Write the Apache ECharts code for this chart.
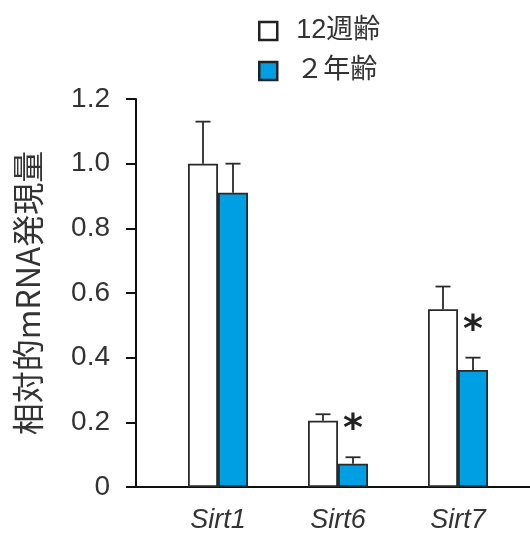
<!DOCTYPE html>
<html><head><meta charset="utf-8">
<script src="https://cdn.jsdelivr.net/npm/echarts@6/dist/echarts.min.js"></script>
<style>html,body{margin:0;padding:0;background:#fff}#c{width:530px;height:537px}</style>
</head><body><div id="c"></div>
<script>
const categories = ['Sirt1', 'Sirt6', 'Sirt7'];
const seriesNames = ['12週齢', '２年齢'];
const young = [1.00, 0.205, 0.55];
const youngErr = [0.13, 0.02, 0.07];
const old = [0.91, 0.072, 0.362];
const oldErr = [0.09, 0.02, 0.038];
const sig = ['', '*', '*'];
const yTicks = [0, 0.2, 0.4, 0.6, 0.8, 1.0, 1.2];

const FONT = "'Liberation Sans', 'Noto Sans CJK JP', sans-serif";
const EDGE = '#2a2a2a';
const BLUE = '#009fe3';
const BW = 30;

function errRender(side, errs, marks) {
  return function (params, api) {
    const i = api.value(0);
    const m = api.value(1);
    const top = m + errs[i];
    const p0 = api.coord([i, m]);
    const p1 = api.coord([i, top]);
    const x = p0[0] + side * BW / 2;
    const children = [
      {type: 'line', shape: {x1: x, y1: p0[1], x2: x, y2: p1[1]}, style: {stroke: EDGE, lineWidth: 1.8}},
      {type: 'line', shape: {x1: x - 7.5, y1: p1[1], x2: x + 7.5, y2: p1[1]}, style: {stroke: EDGE, lineWidth: 1.8}}
    ];
    if (marks && marks[i]) {
      children.push({type: 'text', style: {text: marks[i], x: x, y: p1[1] - 27, align: 'center', verticalAlign: 'middle',
        font: "bold 38px 'DejaVu Sans', sans-serif", fill: '#222'}});
    }
    return {type: 'group', children: children};
  };
}

const chart = echarts.init(document.getElementById('c'), null, {renderer: 'canvas'});
chart.setOption({
  animation: false,
  backgroundColor: '#fff',
  textStyle: {fontFamily: FONT},
  legend: {
    orient: 'vertical', left: 253, top: 11, itemWidth: 18, itemHeight: 18, itemGap: 10,
    textStyle: {fontSize: 27, color: '#333', fontFamily: FONT, padding: [0, 0, 0, 14], lineHeight: 30},
    data: [
      {name: seriesNames[0], icon: 'rect', itemStyle: {color: '#fff', borderColor: '#222', borderWidth: 2.5}},
      {name: seriesNames[1], icon: 'rect', itemStyle: {color: BLUE, borderColor: '#222', borderWidth: 2.5}}
    ]
  },
  grid: [
    {left: 136, right: 0, top: 99, height: 388},
    {left: 158, width: 360, top: 99, height: 388}
  ],
  xAxis: [
    {gridIndex: 0, type: 'value', min: 0, max: 1, axisLine: {show: true, onZero: false, lineStyle: {color: '#111', width: 2}},
      axisTick: {show: false}, axisLabel: {show: false}, splitLine: {show: false}},
    {gridIndex: 1, type: 'category', data: categories, axisLine: {show: false}, axisTick: {show: false},
      axisLabel: {fontSize: 27, fontStyle: 'italic', color: '#333', margin: 20, fontFamily: FONT}}
  ],
  yAxis: [
    {gridIndex: 0, type: 'value', min: 0, max: 1.2, interval: 0.2,
      name: '相対的mRNA発現量', nameLocation: 'middle', nameGap: 92,
      nameTextStyle: {fontSize: 32, color: '#333', fontFamily: "'Noto Sans CJK JP', sans-serif"},
      axisLine: {show: true, lineStyle: {color: '#111', width: 2}},
      axisTick: {show: true, length: 10, lineStyle: {color: '#111', width: 2}},
      axisLabel: {fontSize: 28, color: '#333', margin: 26, fontFamily: FONT,
        formatter: v => { const t = yTicks.find(k => Math.abs(k - v) < 1e-9); return t === 0 ? '0' : t.toFixed(1); }},
      splitLine: {show: false}},
    {gridIndex: 1, type: 'value', min: 0, max: 1.2, interval: 0.2, show: false, splitLine: {show: false}}
  ],
  series: [
    {name: seriesNames[0], type: 'bar', xAxisIndex: 1, yAxisIndex: 1, data: young, barWidth: BW, barGap: '0%',
      itemStyle: {color: '#fff', borderColor: EDGE, borderWidth: 1.8}},
    {name: seriesNames[1], type: 'bar', xAxisIndex: 1, yAxisIndex: 1, data: old, barWidth: BW, barGap: '0%',
      itemStyle: {color: BLUE, borderColor: EDGE, borderWidth: 1.8}},
    {type: 'custom', xAxisIndex: 1, yAxisIndex: 1, renderItem: errRender(-1, youngErr, null),
      data: young.map((v, i) => [i, v]), z: 3},
    {type: 'custom', xAxisIndex: 1, yAxisIndex: 1, renderItem: errRender(1, oldErr, sig),
      data: old.map((v, i) => [i, v]), z: 3}
  ]
});
</script></body></html>
